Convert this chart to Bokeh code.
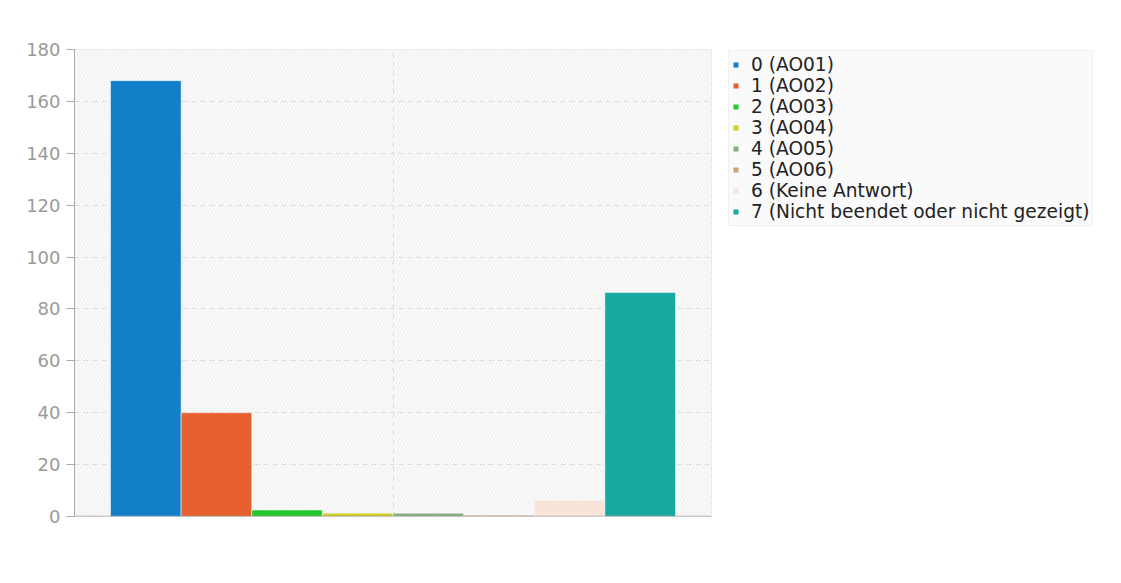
from bokeh.plotting import figure
from bokeh.models import (Legend, LegendItem, BoxAnnotation, Span,
                          FixedTicker, Range1d)
from bokeh.embed import file_html
from bokeh.resources import INLINE

labels = ["0 (AO01)", "1 (AO02)", "2 (AO03)", "3 (AO04)", "4 (AO05)",
          "5 (AO06)", "6 (Keine Antwort)", "7 (Nicht beendet oder nicht gezeigt)"]
values = [168, 40, 2.5, 1.3, 1.3, 0.5, 6.3, 86.3]
colors = ["#137fc8", "#e8602f", "#22c92b", "#cfcc22", "#86ae7c",
          "#c8a47e", "#fae4da", "#17a89f"]
y_ticks = [0, 20, 40, 60, 80, 100, 120, 140, 160, 180]

FONT = "DejaVu Sans"

p = figure(frame_width=637, frame_height=467, output_backend="svg",
           toolbar_location=None,
           x_range=Range1d(-0.51, len(values) + 0.51), y_range=Range1d(0, 180),
           min_border_left=74, min_border_right=0, min_border_top=49,
           min_border_bottom=59)

p.background_fill_color = "#fafafa"
p.border_fill_color = "white"
p.outline_line_color = "#e4e4e4"

bg = BoxAnnotation(fill_color="#fafafa", fill_alpha=1.0, line_color=None,
                   hatch_pattern="/", hatch_color="#ededed", hatch_scale=7,
                   hatch_weight=1, level="image")
p.add_layout(bg)

items = []
for i in range(len(values)):
    r = p.vbar(x=[i + 0.5], top=[values[i]], width=1.0, bottom=0,
               fill_color=colors[i], line_color="white", line_alpha=0.5,
               line_width=1)
    items.append(LegendItem(label=labels[i], renderers=[r]))

# axes
p.yaxis.ticker = FixedTicker(ticks=y_ticks)
p.yaxis.axis_line_color = "#aaaaaa"
p.yaxis.major_tick_line_color = "#aaaaaa"
p.yaxis.major_tick_out = 8
p.yaxis.major_tick_in = 0
p.yaxis.minor_tick_line_color = None
p.yaxis.major_label_text_font = FONT
p.yaxis.major_label_text_font_size = "18px"
p.yaxis.major_label_text_color = "#9a9a9a"
p.yaxis.major_label_standoff = 6

p.xaxis.visible = False
p.xgrid.ticker = FixedTicker(ticks=[len(values) / 2])

p.ygrid.grid_line_color = "#dddddd"
p.ygrid.grid_line_dash = "5 4"
p.xgrid.grid_line_color = "#dddddd"
p.xgrid.grid_line_dash = "5 4"

base = Span(location=0, dimension="width", line_color="#a8a8a8", line_width=1.5,
            level="overlay")
p.add_layout(base)

legend = Legend(items=items, location=(17, 290))
legend.label_text_font = FONT
legend.label_text_font_size = "18.6px"
legend.label_text_color = "#222222"
legend.label_height = 21
legend.label_standoff = 12
legend.glyph_width = 7
legend.glyph_height = 7
legend.spacing = 0
legend.padding = 3
legend.margin = 0
legend.border_line_color = "#e6e6e6"
legend.background_fill_color = "#fafafa"
legend.background_fill_alpha = 1.0
p.add_layout(legend, "right")

open("out.html", "w").write(file_html(p, INLINE))
